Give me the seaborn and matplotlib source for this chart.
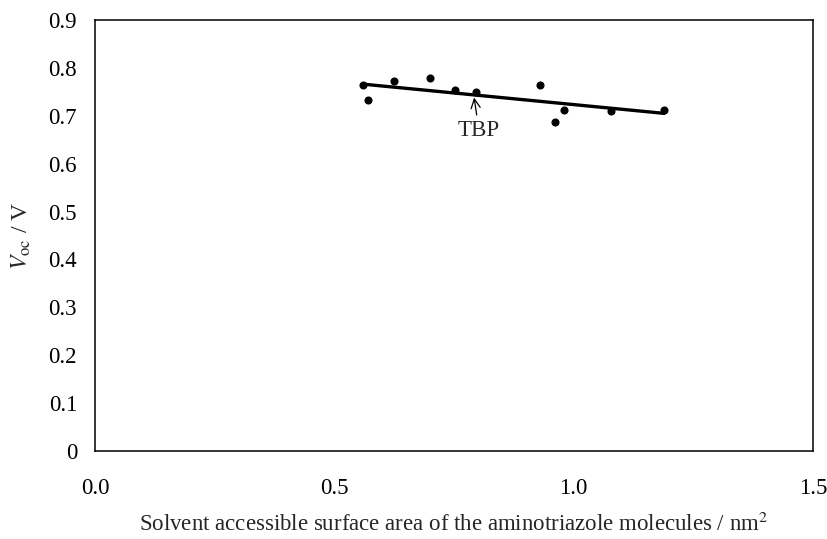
import numpy as np
import pandas as pd
import matplotlib
matplotlib.use("Agg")
import matplotlib.pyplot as plt
import seaborn as sns

# ── Dados ────────────────────────────────────────────────
sasa = [0.560, 0.571, 0.625, 0.700, 0.752, 0.795, 0.930, 0.961, 0.980, 1.077, 1.189]
voc = [0.764, 0.732, 0.773, 0.778, 0.754, 0.750, 0.764, 0.687, 0.711, 0.710, 0.711]
fit_x = [0.560, 1.189]
fit_y = [0.766, 0.705]
tbp_xy = (0.795, 0.750)
tbp_texto = (0.802, 0.670)

pontos = pd.DataFrame({"sasa": sasa, "voc": voc})
reta = pd.DataFrame({"sasa": fit_x, "voc": fit_y})

# ── Configuração visual ───────────────────────────────────
sns.set_style("white")
plt.rcParams["font.family"] = ["Liberation Serif", "DejaVu Serif"]
plt.rcParams["mathtext.fontset"] = "stix"

fig, ax = plt.subplots(figsize=(8.27, 5.39), dpi=100)
fig.subplots_adjust(left=0.115, right=0.983, top=0.963, bottom=0.163)

sns.lineplot(data=reta, x="sasa", y="voc", color="black", linewidth=2.4, ax=ax)
sns.scatterplot(data=pontos, x="sasa", y="voc", color="black", s=34,
                edgecolor="black", linewidth=0, ax=ax, zorder=3)

ax.annotate("TBP", xy=(tbp_xy[0] - 0.003, tbp_xy[1] - 0.012), xytext=tbp_texto,
            ha="center", va="center", fontsize=16.5,
            arrowprops=dict(arrowstyle="->", color="black", lw=0.9,
                            shrinkA=1, shrinkB=0))

ax.set_xlim(0, 1.5)
ax.set_ylim(0, 0.9)
ax.set_xticks([0.0, 0.5, 1.0, 1.5])
ax.set_xticklabels(["0.0", "0.5", "1.0", "1.5"])
ax.set_yticks(np.arange(0, 10) / 10)
ax.set_yticklabels(["0"] + [f"{v/10:.1f}" for v in range(1, 10)])
ax.tick_params(direction="in", length=5, width=1, colors="black",
               labelsize=16.5)
ax.tick_params(axis="x", pad=19)
ax.tick_params(axis="y", pad=13)
for s in ax.spines.values():
    s.set_color("black")
    s.set_linewidth(1.1)

ax.set_xlabel("Solvent accessible surface area of the aminotriazole molecules / nm$^2$",
              fontsize=16.5, labelpad=10)
ax.set_ylabel("$\\mathit{V}_{\\mathrm{oc}}$ / V", fontsize=17, labelpad=11)

plt.savefig("out.png", dpi=100)
